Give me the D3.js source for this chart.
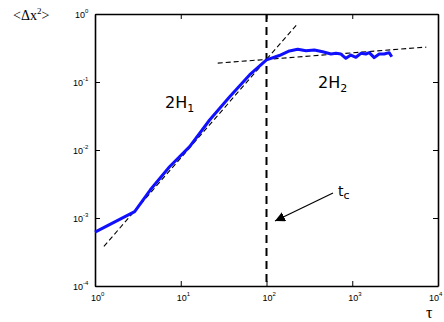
<!DOCTYPE html>
<html>
<head>
<meta charset="utf-8">
<script src="https://cdn.jsdelivr.net/npm/d3@7"></script>
<style>
  html, body { margin: 0; padding: 0; background: #fff; }
  svg { display: block; }
</style>
</head>
<body>
<svg id="chart" width="444" height="322"></svg>
<script>
const tauValues = [1, 2.9, 4.4, 7.4, 12.7, 21.7, 37.2, 63.4, 100, 141, 185, 231, 289, 361, 452, 565, 646, 738, 843, 964, 1104, 1262, 1442, 1578, 1803, 2061, 2355, 2692, 2891];
const msdValues = [6.2e-4, 1.24e-3, 2.58e-3, 5.68e-3, 1.12e-2, 2.76e-2, 6.08e-2, 0.127, 0.212, 0.245, 0.286, 0.303, 0.288, 0.296, 0.279, 0.258, 0.264, 0.258, 0.223, 0.249, 0.231, 0.264, 0.258, 0.27, 0.228, 0.258, 0.258, 0.27, 0.235];

// power-law fits through the crossover point
const crossover = { tau: 100, msd: 0.215 };
const fitLines = [
  { from: 1.27, to: 225, slope: 1.45 },
  { from: 27, to: 7300, slope: 0.097 },
];

const xTicks = [1, 10, 100, 1000, 10000];
const yTicks = [1e-4, 1e-3, 1e-2, 1e-1, 1];

const svg = d3.select("#chart");
const margin = { top: 14, right: 6, bottom: 36, left: 95 };
const W = 444, H = 322;
const x = d3.scaleLog().domain([1, 1e4]).range([margin.left, W - margin.right]);
const y = d3.scaleLog().domain([1e-4, 1]).range([H - margin.bottom, margin.top]);

const expOf = (v) => Math.round(Math.log10(v));

// axes, ticks pointing inward on all four sides
const tickLen = 5;
svg.append("g").attr("transform", `translate(0,${y.range()[0]})`)
  .call(d3.axisBottom(x).tickValues(xTicks).tickSize(-tickLen).tickSizeOuter(0).tickFormat(""));
svg.append("g").attr("transform", `translate(0,${y.range()[1]})`)
  .call(d3.axisTop(x).tickValues(xTicks).tickSize(-tickLen).tickSizeOuter(0).tickFormat(""));
svg.append("g").attr("transform", `translate(${x.range()[0]},0)`)
  .call(d3.axisLeft(y).tickValues(yTicks).tickSize(-tickLen).tickSizeOuter(0).tickFormat(""));
svg.append("g").attr("transform", `translate(${x.range()[1]},0)`)
  .call(d3.axisRight(y).tickValues(yTicks).tickSize(-tickLen).tickSizeOuter(0).tickFormat(""));
svg.selectAll(".domain").attr("stroke", "#000").attr("stroke-width", 1.6);
svg.selectAll(".tick line").attr("stroke", "#000").attr("stroke-width", 1);

function powerLabel(sel) {
  sel.attr("font-family", "Liberation Sans, Arial, sans-serif").attr("font-size", 9).attr("fill", "#000");
  sel.append("tspan").text("10");
  sel.append("tspan").attr("font-size", 6).attr("dy", -5).text((d) => expOf(d));
}

// the last label would run off the page, so it is nudged inward
svg.append("g").selectAll("text").data(xTicks).join("text")
  .attr("x", (d) => Math.min(x(d) - 4, W - 15))
  .attr("y", y.range()[0] + 15)
  .call(powerLabel);

svg.append("g").selectAll("text").data(yTicks).join("text")
  .attr("x", (d) => x.range()[0] - (expOf(d) < 0 ? 22 : 20))
  .attr("y", (d) => y(d) + 4)
  .call(powerLabel);

// fit lines
const clipId = "plot-clip";
svg.append("clipPath").attr("id", clipId).append("rect")
  .attr("x", x.range()[0]).attr("y", y.range()[1])
  .attr("width", x.range()[1] - x.range()[0]).attr("height", y.range()[0] - y.range()[1]);

const fitAt = (t, slope) => crossover.msd * Math.pow(t / crossover.tau, slope);
svg.append("g").attr("clip-path", `url(#${clipId})`)
  .selectAll("line").data(fitLines).join("line")
  .attr("x1", (d) => x(d.from)).attr("y1", (d) => y(fitAt(d.from, d.slope)))
  .attr("x2", (d) => x(d.to)).attr("y2", (d) => y(fitAt(d.to, d.slope)))
  .attr("stroke", "#000").attr("stroke-width", 1.1).attr("stroke-dasharray", "5,3");

// crossover time marker
svg.append("line")
  .attr("x1", x(crossover.tau)).attr("x2", x(crossover.tau))
  .attr("y1", y.range()[1]).attr("y2", y.range()[0])
  .attr("stroke", "#000").attr("stroke-width", 2).attr("stroke-dasharray", "8,5");

// data curve
const pts = tauValues.map((t, i) => [t, msdValues[i]]);
svg.append("path").datum(pts)
  .attr("fill", "none").attr("stroke", "#1010ff").attr("stroke-width", 3)
  .attr("stroke-linejoin", "round")
  .attr("d", d3.line().x((d) => x(d[0])).y((d) => y(d[1])));

// annotations
const note = svg.append("g").attr("font-family", "DejaVu Sans, Verdana, sans-serif").attr("fill", "#000");
const h1 = note.append("text").attr("x", 165).attr("y", 108).attr("font-size", 16);
h1.append("tspan").text("2H");
h1.append("tspan").attr("font-size", 11).attr("dy", 4).text("1");
const h2 = note.append("text").attr("x", 318).attr("y", 88).attr("font-size", 16);
h2.append("tspan").text("2H");
h2.append("tspan").attr("font-size", 11).attr("dy", 4).text("2");
const tc = note.append("text").attr("x", 338).attr("y", 196).attr("font-size", 14);
tc.append("tspan").text("t");
tc.append("tspan").attr("font-size", 11).attr("dy", 3).text("c");

svg.append("defs").append("marker")
  .attr("id", "arrowhead").attr("viewBox", "0 0 10 10")
  .attr("refX", 10).attr("refY", 5)
  .attr("markerWidth", 10).attr("markerHeight", 10)
  .attr("markerUnits", "userSpaceOnUse")
  .attr("orient", "auto")
  .append("path").attr("d", "M0,0L10,5L0,10Z").attr("fill", "#000");
svg.append("line")
  .attr("x1", 333).attr("y1", 193).attr("x2", 275).attr("y2", 221)
  .attr("stroke", "#000").attr("stroke-width", 1.2)
  .attr("marker-end", "url(#arrowhead)");

// axis titles
const yt = svg.append("text").attr("x", 13).attr("y", 20)
  .attr("font-family", "Liberation Serif, Times New Roman, serif").attr("font-size", 14);
yt.append("tspan").text("<Δx");
yt.append("tspan").attr("font-size", 9).attr("dy", -6).text("2");
yt.append("tspan").attr("dy", 6).text(">");
svg.append("text").attr("x", 426).attr("y", 318)
  .attr("font-family", "Liberation Serif, Times New Roman, serif").attr("font-size", 16)
  .text("τ");
</script>
</body>
</html>
